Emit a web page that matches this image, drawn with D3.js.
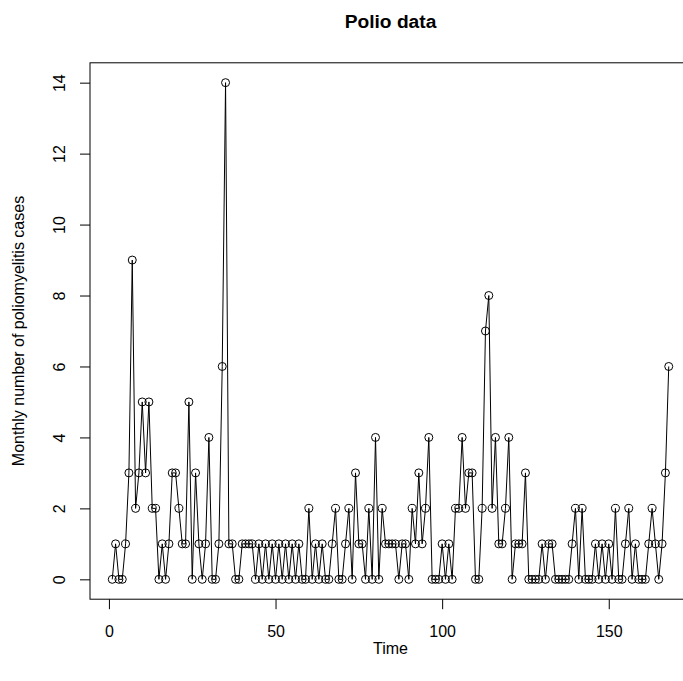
<!DOCTYPE html>
<html>
<head>
<meta charset="utf-8">
<script src="https://cdn.jsdelivr.net/npm/d3@7"></script>
<style>
html,body{margin:0;padding:0;background:#fff;}
svg{display:block;}
text{font-family:"Liberation Sans",Arial,Helvetica,sans-serif;fill:#000;}
</style>
</head>
<body>
<svg id="chart" width="683" height="681"></svg>
<script>
// Monthly polio cases (1970-1983), index 1..168
const cases = [
  0,1,0,0,1,3,9,2,3,5,3,5,
  2,2,0,1,0,1,3,3,2,1,1,5,
  0,3,1,0,1,4,0,0,1,6,14,1,
  1,0,0,1,1,1,1,0,1,0,1,0,
  1,0,1,0,1,0,1,0,1,0,0,2,
  0,1,0,1,0,0,1,2,0,0,1,2,
  0,3,1,1,0,2,0,4,0,2,1,1,
  1,1,0,1,1,0,2,1,3,1,2,4,
  0,0,0,1,0,1,0,2,2,4,2,3,
  3,0,0,2,7,8,2,4,1,1,2,4,
  0,1,1,1,3,0,0,0,0,1,0,1,
  1,0,0,0,0,0,1,2,0,2,0,0,
  0,1,0,1,0,1,0,2,0,0,1,2,
  0,1,0,0,0,1,2,1,0,1,3,6
];
const xTicks = [0, 50, 100, 150];
const yTicks = [0, 2, 4, 6, 8, 10, 12, 14];
const titleText = "Polio data";
const xLabel = "Time";
const yLabel = "Monthly number of poliomyelitis cases";

const data = cases.map((v, i) => ({t: i + 1, v}));
const svg = d3.select("#chart");

const pLeft = 90, pRight = 691, pTop = 62.8, pBottom = 599.2;
const xMin = 1, xMax = cases.length;
const xPad = (xMax - xMin) * 0.04;
const yMax = d3.max(cases), yPad = yMax * 0.04;

const x = d3.scaleLinear().domain([xMin - xPad, xMax + xPad]).range([pLeft, pRight]);
const y = d3.scaleLinear().domain([0 - yPad, yMax + yPad]).range([pBottom, pTop]);

// box
svg.append("rect")
  .attr("x", pLeft).attr("y", pTop)
  .attr("width", pRight - pLeft).attr("height", pBottom - pTop)
  .attr("fill", "none").attr("stroke", "#000").attr("stroke-width", 1);

// x axis
const xAxis = svg.append("g")
  .attr("transform", `translate(0,${pBottom})`)
  .call(d3.axisBottom(x).tickValues(xTicks).tickSize(10).tickPadding(16).tickFormat(d3.format("d")));
xAxis.select(".domain").remove();
xAxis.selectAll("text").attr("font-size", 16).style("font-family", '"Liberation Sans",Arial,sans-serif');
xAxis.selectAll("line").attr("stroke", "#000");

// y axis
const yAxis = svg.append("g")
  .attr("transform", `translate(${pLeft},0)`)
  .call(d3.axisLeft(y).tickValues(yTicks).tickSize(10).tickFormat(d3.format("d")));
yAxis.select(".domain").remove();
yAxis.selectAll("line").attr("stroke", "#000");
yAxis.selectAll("text")
  .attr("font-size", 16)
  .style("font-family", '"Liberation Sans",Arial,sans-serif')
  .attr("x", null)
  .attr("text-anchor", "middle")
  .attr("transform", "translate(-31,0) rotate(-90)")
  .attr("dy", "0.35em");

// line
svg.append("path")
  .datum(data)
  .attr("fill", "none")
  .attr("stroke", "#000")
  .attr("stroke-width", 1)
  .attr("d", d3.line().x(d => x(d.t)).y(d => y(d.v)));

// points
svg.append("g").selectAll("circle")
  .data(data)
  .join("circle")
  .attr("cx", d => x(d.t))
  .attr("cy", d => y(d.v))
  .attr("r", 4)
  .attr("fill", "none")
  .attr("stroke", "#000")
  .attr("stroke-width", 1);

// titles
svg.append("text")
  .attr("x", (pLeft + pRight) / 2).attr("y", 28)
  .attr("text-anchor", "middle")
  .attr("font-size", 19.2).attr("font-weight", "bold")
  .text(titleText);

svg.append("text")
  .attr("x", (pLeft + pRight) / 2).attr("y", 654)
  .attr("text-anchor", "middle")
  .attr("font-size", 16)
  .text(xLabel);

svg.append("text")
  .attr("transform", `translate(24,${(pTop + pBottom) / 2}) rotate(-90)`)
  .attr("text-anchor", "middle")
  .attr("font-size", 16)
  .text(yLabel);
</script>
</body>
</html>
